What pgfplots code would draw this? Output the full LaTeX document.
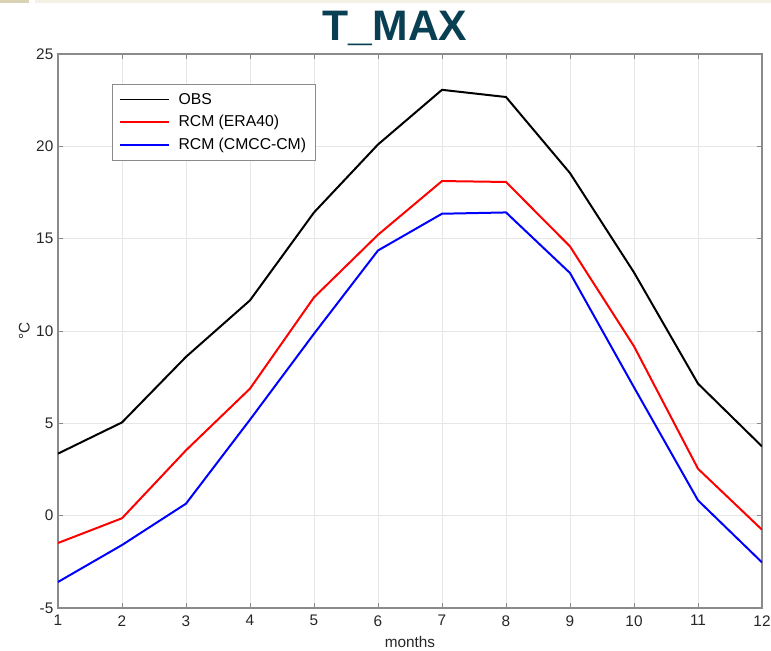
\documentclass[border=0pt]{standalone}
\usepackage{fontspec}
\setmainfont{Liberation Sans}
\usepackage{pgfplots}
\pgfplotsset{compat=1.18}
\definecolor{titleteal}{HTML}{083F52}
\definecolor{axgray}{HTML}{8A8A8A}
\definecolor{gridgray}{HTML}{E6E6E6}
\definecolor{txt}{HTML}{262626}
\definecolor{beige}{HTML}{F3F1E6}
\definecolor{tan}{HTML}{D9D2B4}

\begin{document}
\begin{tikzpicture}
\path[use as bounding box] (-43.5pt,-31.5pt) rectangle (534.75pt,456pt);
% slide header remnants
\fill[tan] (-43.5pt,453.75pt) rectangle (-22pt,456pt);
\fill[beige] (-17pt,453.75pt) rectangle (534.75pt,456pt);
\begin{axis}[
    at={(0,0)}, anchor=south west,
    scale only axis, width=528pt, height=415.5pt,
    xmin=1, xmax=12, ymin=-5, ymax=25,
    xtick={1,...,12}, ytick={-5,0,...,25},
    axis line style={axgray, line width=0.8pt},
    tick style={axgray, line width=0.6pt},
    tick align=inside, major tick length=4pt,
    grid=major, grid style={gridgray, line width=0.5pt},
    tick label style={font=\fontsize{11.5}{13}\selectfont, text=txt},
    xticklabel style={yshift=-2pt},
    /pgf/number format/assume math mode=true,
    xlabel={months}, ylabel={°C},
    label style={font=\fontsize{11.5}{13}\selectfont, text=txt},
    xlabel style={yshift=-1pt},
    ylabel style={yshift=-2pt},
    legend cell align=left,
    legend style={at={(0.0767,0.9458)}, anchor=north west,
        draw=axgray, line width=0.6pt, fill=white,
        font=\fontsize{11.8}{13}\selectfont,
        inner xsep=5pt, inner ysep=4.5pt, row sep=3pt},
    legend image code/.code={\draw[#1, line width=1.2pt] (0cm,0cm) -- (1.3cm,0cm);
        \path (1.45cm,0cm);},
]
\addplot[black, line width=1.5pt] coordinates {
    (1,3.36)(2,5.05)(3,8.6)(4,11.66)(5,16.42)(6,20.1)(7,23.06)(8,22.67)(9,18.55)(10,13.17)(11,7.15)(12,3.75)
};
\addlegendentry{OBS}
\addplot[red, line width=1.5pt] coordinates {
    (1,-1.48)(2,-0.14)(3,3.54)(4,6.88)(5,11.82)(6,15.21)(7,18.12)(8,18.07)(9,14.58)(10,9.17)(11,2.54)(12,-0.76)
};
\addlegendentry{RCM (ERA40)}
\addplot[blue, line width=1.5pt] coordinates {
    (1,-3.59)(2,-1.59)(3,0.65)(4,5.2)(5,9.85)(6,14.36)(7,16.35)(8,16.42)(9,13.14)(10,6.95)(11,0.83)(12,-2.53)
};
\addlegendentry{RCM (CMCC-CM)}
\end{axis}
\node[font=\fontsize{32}{36}\selectfont\bfseries, text=titleteal] at (252.75pt,435pt) {T\_MAX};
\end{tikzpicture}
\end{document}
